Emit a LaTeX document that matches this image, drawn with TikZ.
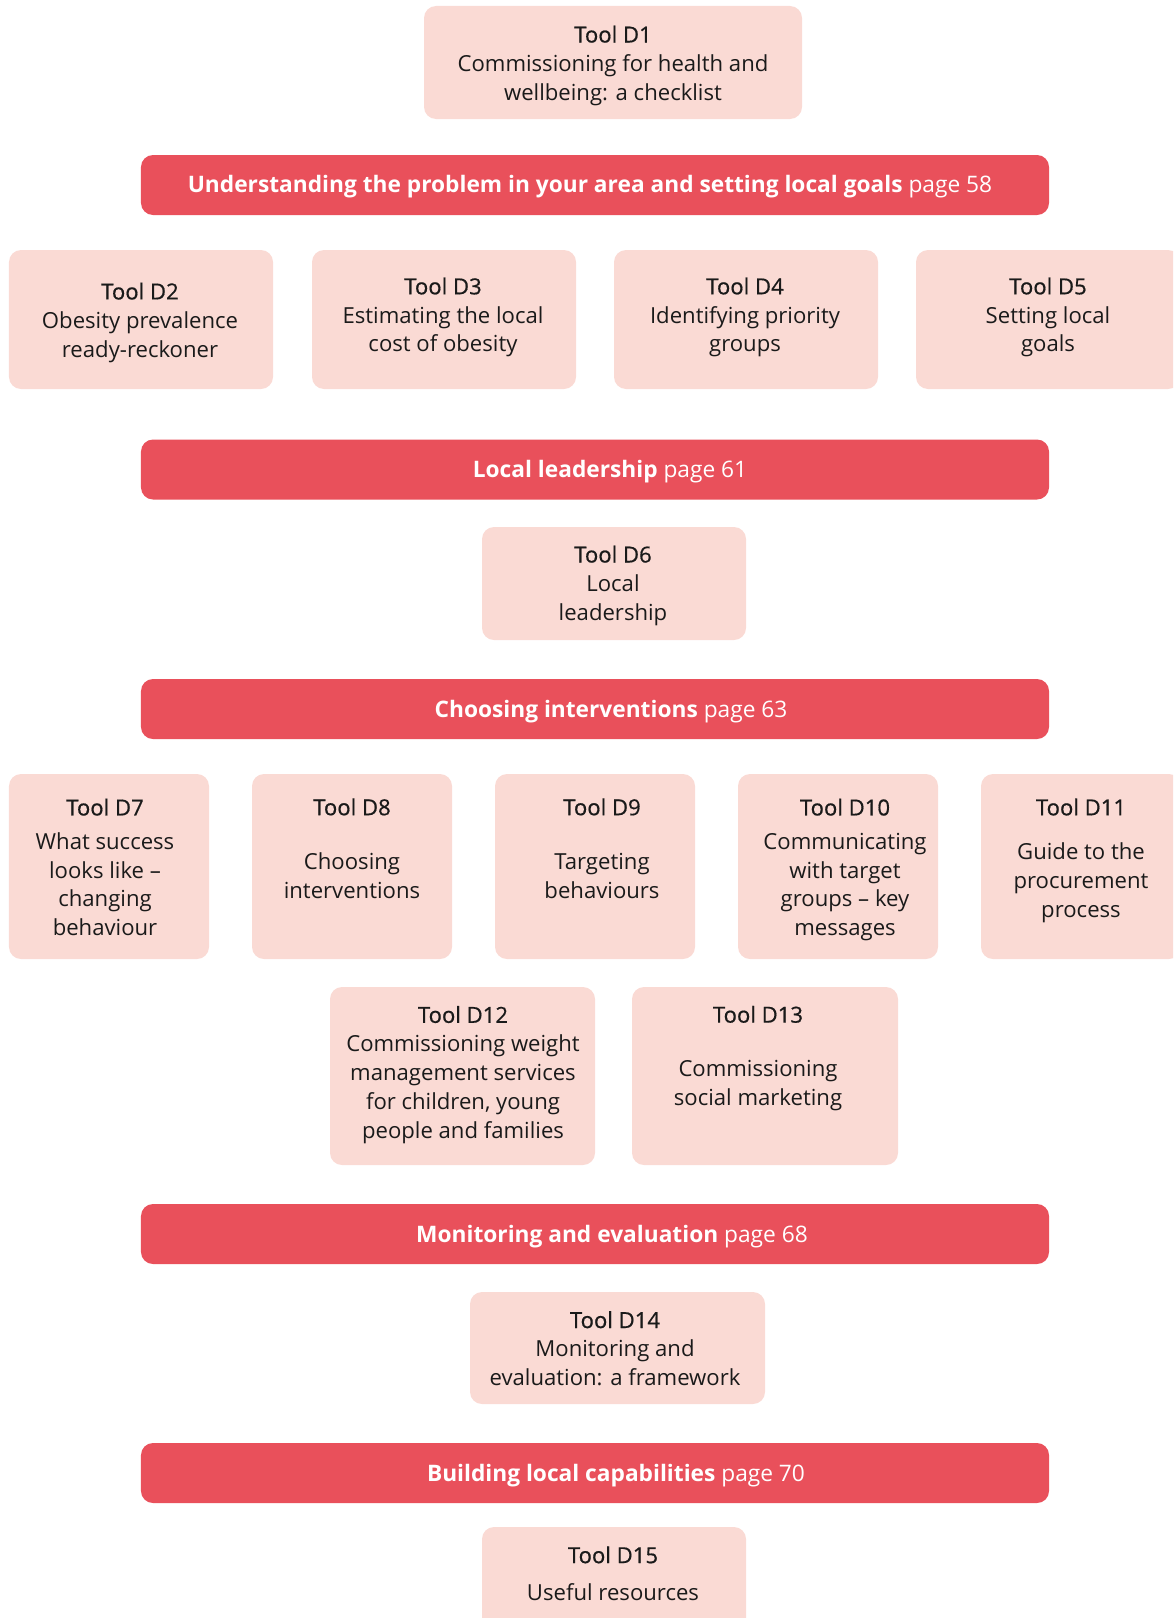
\documentclass[tikz,border=0pt]{standalone}
\usepackage{fontspec}
\setmainfont{Open Sans}
\newfontfamily\ttlfont[FakeBold=0.6]{Open Sans}
\newcommand{\ttl}[1]{{\ttlfont #1}}
\definecolor{pinkfill}{HTML}{FADAD4}
\definecolor{bannerred}{HTML}{E9505B}
\definecolor{inktext}{HTML}{1A1A1A}
\begin{document}
\begin{tikzpicture}[x=1bp,y=-1bp,
  toolbox/.style={fill=pinkfill,draw=none,rounded corners=12bp,inner sep=0pt},
  banner/.style={fill=bannerred,draw=none,rounded corners=12bp,inner sep=0pt,minimum width=908bp,minimum height=60bp},
  tooltxt/.style={anchor=base,align=center,text=inktext,inner sep=0pt,font=\fontsize{22.2}{28.9}\selectfont},
  bantxt/.style={anchor=base,text=white,inner sep=0pt,font=\fontsize{22.8}{26}\selectfont}]
\useasboundingbox (0,0) rectangle (1173,1618);
\begin{scope}
\clip (0,0) rectangle (1173,1618);
% boxes
\node[toolbox,minimum width=378bp,minimum height=113bp] (d1) at (613,62.5) {};
\node[banner] (b1) at (595,185) {};
\node[toolbox,minimum width=264bp,minimum height=139bp] (d2) at (141,319.5) {};
\node[toolbox,minimum width=264bp,minimum height=139bp] (d3) at (444,319.5) {};
\node[toolbox,minimum width=264bp,minimum height=139bp] (d4) at (746,319.5) {};
\node[toolbox,minimum width=264bp,minimum height=139bp] (d5) at (1048,319.5) {};
\node[banner] (b2) at (595,469.5) {};
\node[toolbox,minimum width=264bp,minimum height=113bp] (d6) at (614,583.5) {};
\node[banner] (b3) at (595,709) {};
\node[toolbox,minimum width=200bp,minimum height=185bp] (d7) at (109,866.5) {};
\node[toolbox,minimum width=200bp,minimum height=185bp] (d8) at (352,866.5) {};
\node[toolbox,minimum width=200bp,minimum height=185bp] (d9) at (595,866.5) {};
\node[toolbox,minimum width=200bp,minimum height=185bp] (d10) at (838,866.5) {};
\node[toolbox,minimum width=200bp,minimum height=185bp] (d11) at (1081,866.5) {};
\node[toolbox,minimum width=265bp,minimum height=178bp] (d12) at (462.5,1076) {};
\node[toolbox,minimum width=266bp,minimum height=178bp] (d13) at (765,1076) {};
\node[banner] (b4) at (595,1234) {};
\node[toolbox,minimum width=295bp,minimum height=112bp] (d14) at (617.5,1348) {};
\node[banner] (b5) at (595,1473) {};
\node[toolbox,minimum width=264bp,minimum height=130bp] (d15) at (614,1592) {};
\end{scope}
% banner texts
\node[bantxt] (b1t) at (590,192.9) {\textbf{Understanding the problem in your area and setting local goals} page 58};
\node[bantxt] (b2t) at (610,477.7) {\textbf{Local leadership} page 61};
\node[bantxt] (b3t) at (611,717) {\textbf{Choosing interventions} page 63};
\node[bantxt] (b4t) at (612,1242.2) {\textbf{Monitoring and evaluation} page 68};
\node[bantxt] (b5t) at (616,1481.5) {\textbf{Building local capabilities} page 70};
% tool texts (anchor = baseline of last line)
\node[tooltxt] (d1t) at (613,100.1) {\ttl{Tool D1}\\Commissioning for health and\\wellbeing: a checklist};
\node[tooltxt] (d2t) at (140,357.0) {\ttl{Tool D2}\\Obesity prevalence\\ready-reckoner};
\node[tooltxt] (d3t) at (443,351.9) {\ttl{Tool D3}\\Estimating the local\\cost of obesity};
\node[tooltxt] (d4t) at (745,351.9) {\ttl{Tool D4}\\Identifying priority\\groups};
\node[tooltxt] (d5t) at (1048,351.9) {\ttl{Tool D5}\\Setting local\\goals};
\node[tooltxt] (d6t) at (613,620.1) {\ttl{Tool D6}\\Local\\leadership};
\node[tooltxt] (d7t) at (105,935.6) {\ttl{Tool D7}\\[5bp]What success\\looks like --\\changing\\behaviour};
\node[tooltxt] (d8t) at (352,898.6) {\ttl{Tool D8}\\[25.8bp]Choosing\\interventions};
\node[tooltxt] (d9t) at (602,898.6) {\ttl{Tool D9}\\[25.8bp]Targeting\\behaviours};
\node[tooltxt] (d10t) at (845,935.6) {\ttl{Tool D10}\\[5bp]Communicating\\with target\\groups -- key\\messages};
\node[tooltxt] (d11t) at (1081,917.2) {\ttl{Tool D11}\\[15.5bp]Guide to the\\procurement\\process};
\node[tooltxt] (d12t) at (463,1138.0) {\ttl{Tool D12}\\Commissioning weight\\management services\\for children, young\\people and families};
\node[tooltxt] (d13t) at (758,1105.0) {\ttl{Tool D13}\\[24.8bp]Commissioning\\social marketing};
\node[tooltxt] (d14t) at (615,1385.6) {\ttl{Tool D14}\\Monitoring and\\evaluation: a framework};
\node[tooltxt] (d15t) at (613,1600.1) {\ttl{Tool D15}\\[8.2bp]Useful resources};
\end{tikzpicture}
\end{document}
